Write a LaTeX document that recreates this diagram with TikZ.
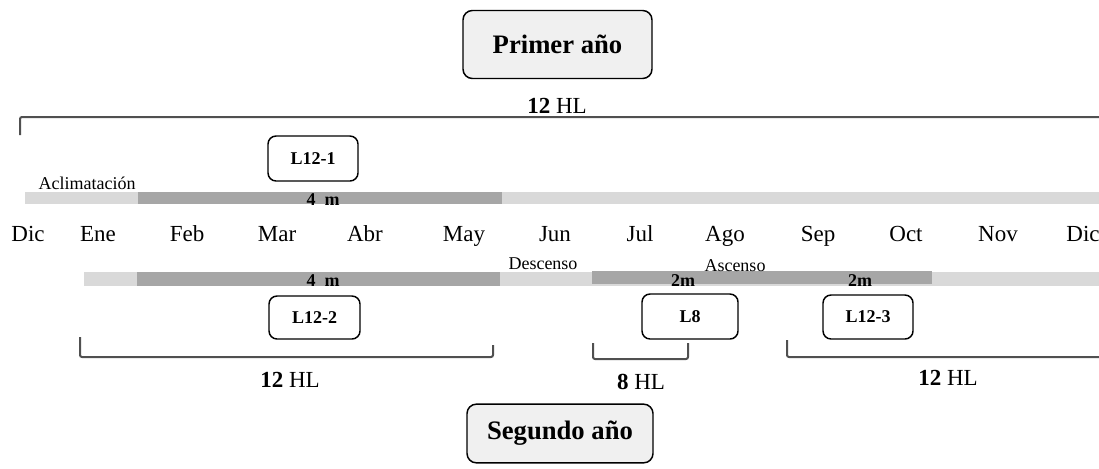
\documentclass[tikz,border=0pt]{standalone}
\usepackage{fontspec}
\setmainfont{Liberation Serif}

\definecolor{barlight}{RGB}{217,217,217}
\definecolor{bardark}{RGB}{166,166,166}
\definecolor{yearfill}{RGB}{240,240,240}
\definecolor{braceline}{RGB}{80,80,80}

\tikzset{every picture/.style={line width=0.75pt}}
\tikzset{
  month/.style={anchor=base, inner sep=0pt, font=\fontsize{17.25}{20}\selectfont},
  small/.style={anchor=base, inner sep=0pt, font=\fontsize{13.5}{16}\selectfont},
  smallbold/.style={anchor=base, inner sep=0pt, font=\fontsize{13.5}{16}\selectfont\bfseries},
  yearbox/.style={draw, line width=1.1pt, rounded corners=7pt, fill=yearfill, inner sep=0pt, font=\fontsize{20}{24}\selectfont\bfseries},
  linebox/.style={draw, line width=1.1pt, rounded corners=6pt, inner sep=0pt, font=\fontsize{13.5}{16}\selectfont\bfseries},
  bracket/.style={draw=braceline, line width=1.5pt, rounded corners=1.5pt}
}

\begin{document}
\begin{tikzpicture}[x=0.75pt,y=0.75pt,yscale=-1,xscale=1]
\useasboundingbox (0,0) rectangle (1099,468);

% year boxes
\node [yearbox, minimum width=141.75pt, minimum height=51pt] (primer) at (557.5,44.5) {Primer año};
\node [yearbox, minimum width=139.5pt, minimum height=44pt] (segundo) at (560,433.5) {Segundo año};

% top bracket
\draw [bracket] (20,135) -- (20,117) -- (1099,117) ;
\node [month] (hltop) at (557,113) {\textbf{12} HL};

% top bar
\fill [barlight] (25,192) rectangle (1099,204) ;
\fill [bardark] (138,192) rectangle (502,204) ;
\node [small] (aclim) at (87,189) {Aclimatación};
\node [smallbold] (mtop) at (323,205) {4\ \ m};
\node [linebox, minimum width=67.5pt, minimum height=33.75pt] (la) at (313,158.5) {L12-1};

% months
\node [month] (m0) at (28,241) {Dic};
\node [month] (m1) at (98,241) {Ene};
\node [month] (m2) at (187,241) {Feb};
\node [month] (m3) at (277,241) {Mar};
\node [month] (m4) at (365,241) {Abr};
\node [month] (m5) at (464,241) {May};
\node [month] (m6) at (555,241) {Jun};
\node [month] (m7) at (640,241) {Jul};
\node [month] (m8) at (725,241) {Ago};
\node [month] (m9) at (818,241) {Sep};
\node [month] (m10) at (906,241) {Oct};
\node [month] (m11) at (998,241) {Nov};
\node [month] (m12) at (1083,241) {Dic};

% bottom bar
\fill [barlight] (84,272) rectangle (1099,286) ;
\fill [bardark] (137,272) rectangle (500,286) ;
\fill [bardark] (592,271) rectangle (932,284) ;
\node [small] (desc) at (543,269) {Descenso};
\node [small] (asc) at (735,271) {Ascenso};
\node [smallbold] (mbot) at (323,286) {4\ \ m};
\node [smallbold] (mja) at (683,286) {2m};
\node [smallbold] (mjb) at (860,286) {2m};

% line boxes
\node [linebox, minimum width=68.25pt, minimum height=32.25pt] (lb) at (314.5,317.5) {L12-2};
\node [linebox, minimum width=72pt, minimum height=33.75pt] (lc) at (690,316.5) {L8};
\node [linebox, minimum width=67.5pt, minimum height=33pt] (ld) at (868,317) {L12-3};

% bottom brackets
\draw [bracket] (80,337) -- (80,357) -- (493,357) -- (493,345) ;
\node [month] (hla) at (290,387) {\textbf{12} HL};
\draw [bracket] (593,343) -- (593,359) -- (688,359) -- (688,343) ;
\node [month] (hlb) at (641,389) {\textbf{8} HL};
\draw [bracket] (787,340) -- (787,357) -- (1099,357) ;
\node [month] (hlc) at (948,385) {\textbf{12} HL};

\end{tikzpicture}
\end{document}
